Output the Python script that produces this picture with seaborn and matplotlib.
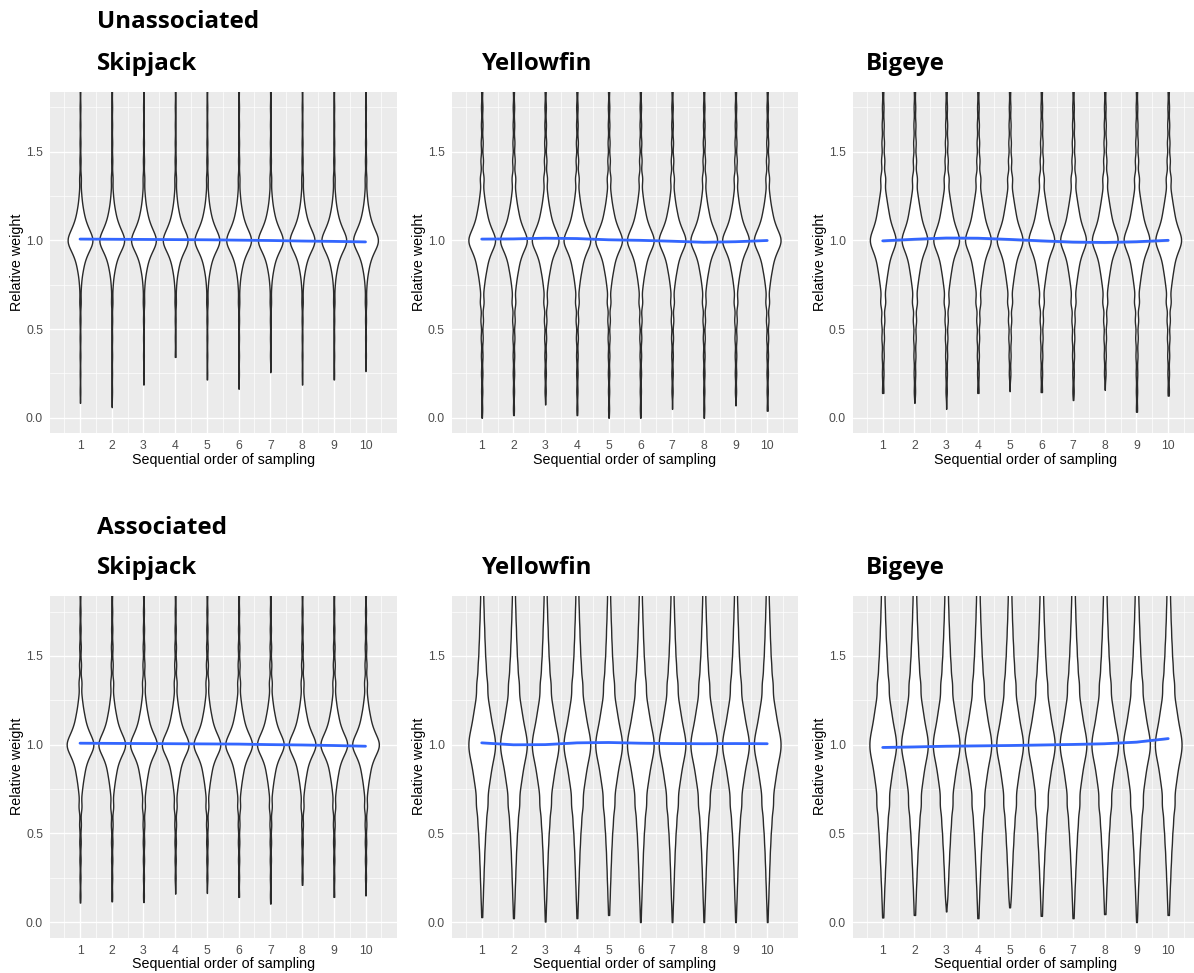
import numpy as np
import pandas as pd
import matplotlib
matplotlib.use("Agg")
import matplotlib.pyplot as plt
import seaborn as sns

# ---------------------------------------------------------------- data
orders = [1, 2, 3, 4, 5, 6, 7, 8, 9, 10]
y_ticks = [0.0, 0.5, 1.0, 1.5]
y_tick_labels = ["0.0", "0.5", "1.0", "1.5"]

# relative-weight bin centres of the pooled histograms
weight_bins = [0.05, 0.15, 0.25, 0.35, 0.45, 0.55, 0.65,
               0.72, 0.76, 0.80, 0.84,
               0.87, 0.89, 0.91, 0.93, 0.95, 0.97, 0.99,
               1.01, 1.03, 1.05, 1.07, 1.09, 1.11, 1.13,
               1.16, 1.20, 1.24, 1.28,
               1.35, 1.45, 1.55, 1.65, 1.75, 1.85, 1.95, 2.05]

# fish counts per bin
unassoc_skipjack_counts = [8, 8, 8, 10, 10, 12, 18,
                           10, 14, 24, 40,
                           28, 34, 42, 52, 65, 80, 95,
                           95, 80, 66, 55, 46, 38, 31,
                           46, 30, 20, 14,
                           22, 15, 12, 10, 10, 8, 5, 5]
unassoc_yellowfin_counts = [12, 15, 18, 20, 25, 32, 45,
                            24, 32, 44, 60,
                            36, 42, 48, 56, 66, 80, 95,
                            95, 80, 67, 58, 50, 43, 37,
                            60, 44, 32, 24,
                            45, 32, 25, 20, 18, 15, 12, 10]
unassoc_bigeye_counts = [15, 18, 22, 28, 35, 45, 65,
                         34, 42, 54, 68,
                         40, 45, 51, 58, 68, 80, 95,
                         95, 82, 70, 62, 55, 49, 44,
                         74, 60, 46, 36,
                         65, 45, 35, 28, 22, 18, 15, 12]
assoc_skipjack_counts = [8, 10, 12, 15, 18, 22, 35,
                         20, 28, 40, 54,
                         33, 39, 46, 55, 66, 80, 95,
                         95, 80, 67, 57, 48, 41, 35,
                         56, 40, 28, 20,
                         35, 25, 20, 15, 12, 10, 10, 8]
assoc_yellowfin_counts = [20, 40, 60, 80, 105, 140, 180,
                          86, 96, 106, 120,
                          66, 71, 76, 82, 88, 94, 99,
                          99, 94, 88, 82, 76, 71, 66,
                          120, 106, 92, 82,
                          170, 135, 105, 85, 65, 50, 40, 30]
assoc_bigeye_counts = [25, 45, 70, 95, 125, 160, 200,
                       92, 100, 110, 122,
                       67, 72, 77, 83, 89, 94, 99,
                       99, 94, 89, 83, 77, 72, 67,
                       124, 110, 98, 88,
                       185, 150, 120, 95, 75, 60, 45, 35]

# lightest relative weight recorded at each sampling order
unassoc_skipjack_min = [0.084, 0.06, 0.187, 0.343, 0.216, 0.163, 0.257, 0.187, 0.216, 0.263]
unassoc_yellowfin_min = [0.0, 0.015, 0.075, 0.015, 0.0, 0.0, 0.05, 0.0, 0.07, 0.04]
unassoc_bigeye_min = [0.14, 0.084, 0.05, 0.14, 0.15, 0.145, 0.10, 0.157, 0.034, 0.125]
assoc_skipjack_min = [0.11, 0.117, 0.113, 0.16, 0.164, 0.142, 0.104, 0.21, 0.142, 0.15]
assoc_yellowfin_min = [0.028, 0.022, 0.003, 0.022, 0.04, 0.0, 0.0, 0.0, 0.0, 0.0]
assoc_bigeye_min = [0.026, 0.04, 0.06, 0.022, 0.083, 0.035, 0.022, 0.045, 0.0, 0.04]

# smoothed trend of relative weight against sampling order
unassoc_skipjack_trend = [1.007, 1.006, 1.005, 1.004, 1.003, 1.001, 0.999, 0.996, 0.994, 0.991]
unassoc_yellowfin_trend = [1.007, 1.008, 1.012, 1.010, 1.003, 1.000, 0.995, 0.989, 0.992, 0.999]
unassoc_bigeye_trend = [0.997, 1.006, 1.013, 1.012, 1.005, 0.997, 0.990, 0.988, 0.992, 1.000]
assoc_skipjack_trend = [1.008, 1.007, 1.006, 1.005, 1.004, 1.003, 1.000, 0.998, 0.995, 0.991]
assoc_yellowfin_trend = [1.010, 0.999, 1.000, 1.010, 1.012, 1.008, 1.006, 1.005, 1.006, 1.005]
assoc_bigeye_trend = [0.984, 0.987, 0.991, 0.993, 0.995, 0.998, 1.001, 1.005, 1.014, 1.034]

# standard error band of the trend
unassoc_skipjack_se = 0.003
unassoc_yellowfin_se = 0.004
unassoc_bigeye_se = 0.007
assoc_skipjack_se = 0.003
assoc_yellowfin_se = 0.004
assoc_bigeye_se = 0.005

row_titles = ["Unassociated", "Associated"]
species = ["Skipjack", "Yellowfin", "Bigeye"]

panels = [
    [(unassoc_skipjack_counts, unassoc_skipjack_min, unassoc_skipjack_trend, unassoc_skipjack_se),
     (unassoc_yellowfin_counts, unassoc_yellowfin_min, unassoc_yellowfin_trend, unassoc_yellowfin_se),
     (unassoc_bigeye_counts, unassoc_bigeye_min, unassoc_bigeye_trend, unassoc_bigeye_se)],
    [(assoc_skipjack_counts, assoc_skipjack_min, assoc_skipjack_trend, assoc_skipjack_se),
     (assoc_yellowfin_counts, assoc_yellowfin_min, assoc_yellowfin_trend, assoc_yellowfin_se),
     (assoc_bigeye_counts, assoc_bigeye_min, assoc_bigeye_trend, assoc_bigeye_se)],
]

# violin width and kernel bandwidth used in each panel
violin_width = [[0.78, 0.84, 0.81], [0.84, 0.84, 0.84]]
kernel_bw = [[0.033, 0.033, 0.035], [0.033, 0.05, 0.05]]


def weight_table(counts, minima):
    bins = np.asarray(weight_bins)
    counts = np.asarray(counts)
    frames = []
    for order, low in zip(orders, minima):
        keep = bins > low
        w = np.concatenate([[low], np.repeat(bins[keep], counts[keep])])
        frames.append(pd.DataFrame({"order": order, "weight": w}))
    return pd.concat(frames, ignore_index=True)


def fixed_bandwidth(target):
    def factor(kde):
        return target / np.std(kde.dataset, ddof=1)
    return factor


# ---------------------------------------------------------------- style
sns.set_theme(style="darkgrid", rc={
    "axes.facecolor": "#EBEBEB",
    "grid.color": "white",
    "axes.edgecolor": "#EBEBEB",
})
plt.rcParams["font.family"] = ["Liberation Sans", "DejaVu Sans"]

W, H = 1194, 973
fig = plt.figure(figsize=(W / 100, H / 100), dpi=100)
fig.patch.set_facecolor("white")

col_left = [50.0, 451.7, 852.7]
panel_w = 346.6
row_top = [91.7, 596.0]
panel_h = 341.6

for r in range(2):
    for c in range(3):
        counts, minima, trend, se = panels[r][c]
        left = col_left[c] / W
        bottom = 1 - (row_top[r] + panel_h) / H
        ax = fig.add_axes([left, bottom, panel_w / W, panel_h / H])
        df = weight_table(counts, minima)
        sns.violinplot(data=df, x="order", y="weight", native_scale=True,
                       density_norm="width", width=violin_width[r][c], cut=0,
                       inner=None, color="white", saturation=1,
                       linecolor="#2a2a2a", linewidth=1.0,
                       bw_method=fixed_bandwidth(kernel_bw[r][c]),
                       gridsize=500, ax=ax, zorder=2)
        lo = [t - se for t in trend]
        hi = [t + se for t in trend]
        ax.fill_between(orders, lo, hi, color="#999999", alpha=0.4, lw=0, zorder=3)
        sns.lineplot(x=orders, y=trend, color="#3366FF", lw=2.0, ax=ax, zorder=4)

        ax.set_xlim(0.054, 10.98)
        ax.set_ylim(-0.0875, 1.8375)
        ax.set_xticks(orders)
        ax.set_xticklabels([str(o) for o in orders])
        ax.set_xticks([o - 0.5 for o in orders] + [10.5], minor=True)
        ax.set_yticks(y_ticks)
        ax.set_yticklabels(y_tick_labels)
        ax.set_yticks([0.25, 0.75, 1.25, 1.75], minor=True)
        ax.grid(which="major", color="white", lw=1.0)
        ax.grid(which="minor", color="white", lw=0.5)
        ax.set_axisbelow(True)
        for s in ax.spines.values():
            s.set_visible(False)
        ax.tick_params(which="major", length=2.6, width=0.8, color="#333333",
                       labelcolor="#4D4D4D", labelsize=8.8, pad=2.4)
        ax.tick_params(which="minor", length=0)
        ax.set_xlabel("Sequential order of sampling", fontsize=10.3, color="black")
        ax.set_ylabel("Relative weight", fontsize=10.3, color="black")
        ax.xaxis.set_label_coords(0.5, -0.058)
        ax.yaxis.set_label_coords(-0.074, 0.5)

title_font = dict(family="Open Sans", weight="bold", size=17.4, color="black",
                  ha="left", va="center")
fig.text(97 / W, 1 - 22.5 / H, row_titles[0], **title_font)
fig.text(97 / W, 1 - 527.5 / H, row_titles[1], **title_font)
species_x = [97, 482, 866]
for r, y in enumerate([63.5, 567.5]):
    for c in range(3):
        fig.text(species_x[c] / W, 1 - y / H, species[c], **title_font)

fig.savefig("out.png", dpi=100)
